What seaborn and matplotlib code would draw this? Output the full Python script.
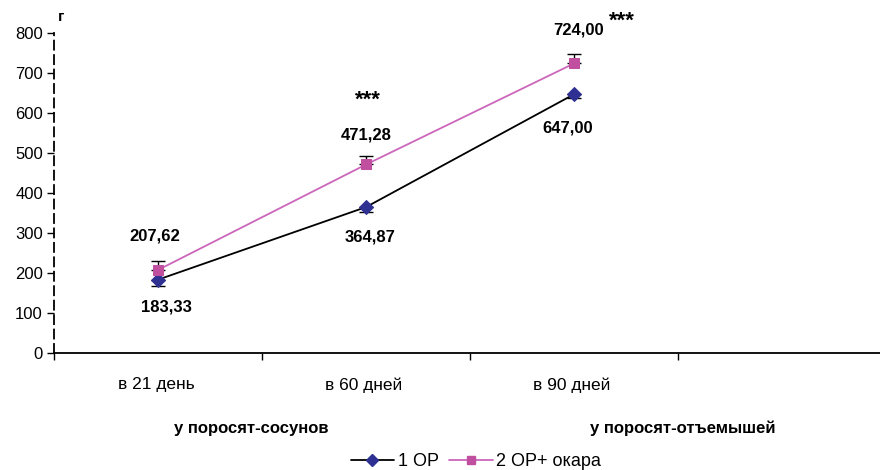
import numpy as np
import matplotlib
matplotlib.use("Agg")
import matplotlib.pyplot as plt
import seaborn as sns
from matplotlib.lines import Line2D

# data
periods = ["в 21 день", "в 60 дней", "в 90 дней"]
groups = ["у поросят-сосунов", "у поросят-отъемышей"]
series_names = ["1 ОР", "2 ОР+ окара"]
op1 = [183.33, 364.87, 647.00]
op2 = [207.62, 471.28, 724.00]
op1_err = [16, 13, 10]
op2_err = [22, 22, 23]
op1_labels = ["183,33", "364,87", "647,00"]
op2_labels = ["207,62", "471,28", "724,00"]

sns.set_style("white")
plt.rcParams["font.family"] = ["Liberation Sans", "DejaVu Sans"]
plt.rcParams["text.color"] = "black"
plt.rcParams["xtick.color"] = "black"
plt.rcParams["ytick.color"] = "black"

c1_line = "black"
c1_mark = "#2E3192"
c2_line = "#CC66BB"
c2_mark = "#C0509F"

fig = plt.figure(figsize=(8.8, 4.7), dpi=100)
ax = fig.add_axes([54 / 880, 117 / 470, 826 / 880, 320 / 470])

x = np.arange(len(periods))
sns.lineplot(x=x, y=op1, ax=ax, color=c1_line, lw=1.3, marker="D", markersize=7,
             markerfacecolor=c1_mark, markeredgecolor=c1_mark, zorder=3)
sns.lineplot(x=x, y=op2, ax=ax, color=c2_line, lw=1.3, marker="s", markersize=6.5,
             markerfacecolor=c2_mark, markeredgecolor=c2_mark, zorder=3)

# one-sided error bars: down for 1 OP, up for 2 OP
ax.errorbar(x, op1, yerr=[op1_err, [0] * 3], fmt="none", ecolor="black", elinewidth=1,
            capsize=5, capthick=1, zorder=2)
ax.errorbar(x, op2, yerr=[[0] * 3, op2_err], fmt="none", ecolor="black", elinewidth=1,
            capsize=5, capthick=1, zorder=2)

ax.set_xlim(-0.5, 3.47)
ax.set_ylim(0, 800)
ax.set_yticks(range(0, 801, 100))
ax.set_xticks([-0.5, 0.5, 1.5, 2.5])
ax.set_xticklabels([])
ax.tick_params(axis="y", direction="out", length=5, width=1, labelsize=12, pad=3, left=True)
ax.tick_params(axis="x", direction="out", length=5, width=1, bottom=True)
for s in ["top", "right"]:
    ax.spines[s].set_visible(False)
ax.spines["left"].set_linestyle((0, (5, 3)))
ax.spines["left"].set_linewidth(1.3)
ax.spines["left"].set_color("black")
ax.spines["bottom"].set_linewidth(1.3)
ax.spines["bottom"].set_color("black")

# value labels
lbl = dict(ha="center", va="center", fontsize=12, fontweight="bold", clip_on=False)
op2_pos = [(-0.015, 292), (1.0, 545), (2.02, 807)]
op1_pos = [(0.04, 115), (1.02, 290), (1.97, 562)]
for (px, py), t in zip(op2_pos, op2_labels):
    ax.text(px, py, t, **lbl)
for (px, py), t in zip(op1_pos, op1_labels):
    ax.text(px, py, t, **lbl)
ax.text(1.01, 632, "***", ha="center", va="center", fontsize=16, fontweight="bold")
ax.text(2.23, 829, "***", ha="center", va="center", fontsize=16, fontweight="bold", clip_on=False)

ax.text(61 / 880, 1 - 17 / 470, "г", transform=fig.transFigure, ha="center", va="center",
        fontsize=11, fontweight="bold")

# category and group labels
for i, p in enumerate(periods):
    fig.text((156 + 208 * i) / 880, 1 - 385 / 470, p, ha="center", va="center", fontsize=12.5)
fig.text(251 / 880, 1 - 428 / 470, groups[0], ha="center", va="center", fontsize=12, fontweight="bold")
fig.text(683 / 880, 1 - 428 / 470, groups[1], ha="center", va="center", fontsize=12, fontweight="bold")

handles = [
    Line2D([], [], color=c1_line, lw=1.3, marker="D", markersize=6, markerfacecolor=c1_mark, markeredgecolor=c1_mark),
    Line2D([], [], color=c2_line, lw=1.3, marker="s", markersize=6, markerfacecolor=c2_mark, markeredgecolor=c2_mark),
]
fig.legend(handles, series_names, loc="center", bbox_to_anchor=(476 / 880, 1 - 462 / 470), ncol=2,
           frameon=False, fontsize=13, handlelength=2.4, handletextpad=0.2, columnspacing=0.6,
           borderpad=0.1)

fig.savefig("out.png", dpi=100)
